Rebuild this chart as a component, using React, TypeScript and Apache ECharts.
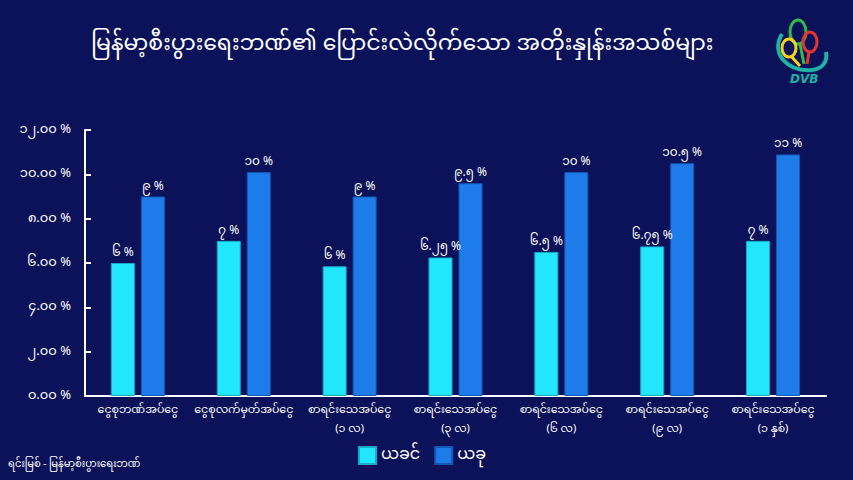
import React, { useEffect, useRef } from "react";
import * as echarts from "echarts";

const categories = [
  "ငွေစုဘဏ်အပ်ငွေ",
  "ငွေစုလက်မှတ်အပ်ငွေ",
  "စာရင်းသေအပ်ငွေ\n(၁ လ)",
  "စာရင်းသေအပ်ငွေ\n(၃ လ)",
  "စာရင်းသေအပ်ငွေ\n(၆ လ)",
  "စာရင်းသေအပ်ငွေ\n(၉ လ)",
  "စာရင်းသေအပ်ငွေ\n(၁ နှစ်)",
];
const previousValues = [6, 7, 5.85, 6.25, 6.5, 6.75, 7];
const previousLabels = ["၆ %", "၇ %", "၆ %", "၆.၂၅ %", "၆.၅ %", "၆.၇၅ %", "၇ %"];
const currentValues = [9, 10.1, 9, 9.6, 10.1, 10.5, 10.9];
const currentLabels = ["၉ %", "၁၀ %", "၉ %", "၉.၅ %", "၁၀ %", "၁၀.၅ %", "၁၁ %"];
const yTickLabels = ["၀.၀၀ %", "၂.၀၀ %", "၄.၀၀ %", "၆.၀၀ %", "၈.၀၀ %", "၁၀.၀၀ %", "၁၂.၀၀ %"];
const seriesNames = ["ယခင်", "ယခု"];
const titleText = "မြန်မာ့စီးပွားရေးဘဏ်၏ ပြောင်းလဲလိုက်သော အတိုးနှုန်းအသစ်များ";
const sourceText = "ရင်းမြစ် - မြန်မာ့စီးပွားရေးဘဏ်";

const FONT = "'Noto Sans Myanmar', 'Myanmar Text', Padauk, 'Noto Sans', sans-serif";
const BG = "#0c1259";
const CYAN = "#22e6fc";
const BLUE = "#1d7bea";
const TEAL = "#1fb3a6";

export default function App() {
  const ref = useRef<HTMLDivElement>(null);
  useEffect(() => {
    if (!ref.current) return;
    const chart = echarts.init(ref.current, undefined, { renderer: "svg" });
    chart.setOption({
      animation: false,
      backgroundColor: BG,
      textStyle: { fontFamily: FONT },
      title: {
        text: titleText,
        left: 86,
        top: 29,
        textStyle: { color: "#ffffff", fontSize: 22, fontWeight: "normal", fontFamily: FONT },
      },
      legend: {
        data: seriesNames,
        left: 353,
        top: 441,
        itemWidth: 17,
        itemHeight: 17,
        itemGap: 14,
        icon: "rect",
        textStyle: { color: "#ffffff", fontSize: 16, fontFamily: FONT },
      },
      grid: { left: 85, right: 27, top: 130, bottom: 84, containLabel: false },
      xAxis: {
        type: "category",
        data: categories,
        axisLine: { show: true, lineStyle: { color: "#ffffff", width: 2 } },
        axisTick: { show: false },
        axisLabel: {
          color: "#ffffff",
          fontSize: 11,
          lineHeight: 19,
          margin: 4,
          interval: 0,
          fontFamily: FONT,
        },
      },
      yAxis: {
        type: "value",
        min: 0,
        max: 12,
        interval: 2,
        splitLine: { show: false },
        axisLine: { show: true, lineStyle: { color: "#ffffff", width: 2 } },
        axisTick: { show: true, inside: true, length: 6, lineStyle: { color: "#ffffff", width: 2 } },
        axisLabel: {
          color: "#ffffff",
          fontSize: 13,
          margin: 14,
          fontFamily: FONT,
          formatter: (v: number) => yTickLabels[Math.round(v / 2)] ?? "",
        },
      },
      series: [
        {
          name: seriesNames[0],
          type: "bar",
          data: previousValues,
          barWidth: 24,
          barGap: "25%",
          itemStyle: { color: CYAN, borderColor: "#1aa9c9", borderWidth: 1 },
          label: {
            show: true,
            position: "top",
            distance: 4,
            color: "#ffffff",
            fontSize: 12,
            fontFamily: FONT,
            formatter: (p: any) => previousLabels[p.dataIndex],
          },
        },
        {
          name: seriesNames[1],
          type: "bar",
          data: currentValues,
          barWidth: 24,
          itemStyle: { color: BLUE, borderColor: "#1458b5", borderWidth: 1 },
          label: {
            show: true,
            position: "top",
            distance: 4,
            color: "#ffffff",
            fontSize: 12,
            fontFamily: FONT,
            formatter: (p: any) => currentLabels[p.dataIndex],
          },
        },
      ],
      graphic: [
        {
          type: "text",
          left: 8,
          top: 460,
          style: { text: sourceText, fill: "#ffffff", fontSize: 10, fontFamily: FONT },
        },
        {
          type: "group",
          x: 774,
          y: 20,
          children: [
            {
              type: "bezierCurve",
              shape: { x1: 8, y1: 14, cpx1: -4, cpy1: 34, cpx2: 14, cpy2: 52, x2: 38, y2: 50 },
              style: { stroke: TEAL, lineWidth: 4, fill: null },
            },
            {
              type: "bezierCurve",
              shape: { x1: 38, y1: 50, cpx1: 48, cpy1: 49, cpx2: 54, cpy2: 42, x2: 52, y2: 32 },
              style: { stroke: TEAL, lineWidth: 4, fill: null },
            },
            {
              type: "line",
              shape: { x1: 26, y1: 24, x2: 30, y2: 44 },
              style: { stroke: "#34b84a", lineWidth: 3 },
            },
            {
              type: "line",
              shape: { x1: 35, y1: 32, x2: 33, y2: 44 },
              style: { stroke: "#e8322f", lineWidth: 3 },
            },
            {
              type: "line",
              shape: { x1: 17, y1: 36, x2: 26, y2: 46 },
              style: { stroke: "#f5d21c", lineWidth: 3 },
            },
            {
              type: "ellipse",
              shape: { cx: 24, cy: 12, rx: 8, ry: 12 },
              style: { stroke: "#34b84a", lineWidth: 3, fill: null },
            },
            {
              type: "ellipse",
              shape: { cx: 36, cy: 22, rx: 7, ry: 10 },
              style: { stroke: "#e8322f", lineWidth: 3, fill: null },
            },
            {
              type: "ellipse",
              shape: { cx: 15, cy: 28, rx: 7, ry: 9 },
              style: { stroke: "#f5d21c", lineWidth: 3, fill: null },
            },
            {
              type: "text",
              x: 16,
              y: 53,
              style: { text: "DVB", fill: TEAL, fontSize: 12, fontWeight: "bold", fontStyle: "italic", fontFamily: "DejaVu Sans" },
            },
          ],
        },
      ],
    });
    return () => chart.dispose();
  }, []);
  return <div ref={ref} style={{ width: 853, height: 480, position: "fixed", left: 0, top: 0 }} />;
}
